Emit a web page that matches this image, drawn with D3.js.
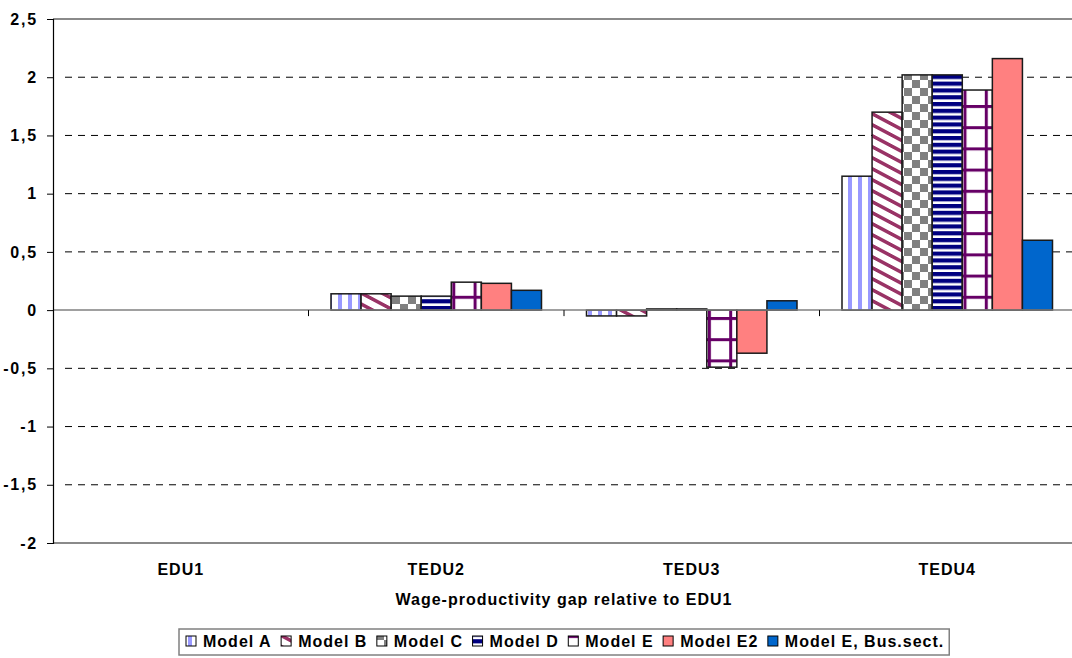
<!DOCTYPE html>
<html>
<head>
<meta charset="utf-8">
<script src="https://cdn.jsdelivr.net/npm/d3@7/dist/d3.min.js"></script>
<style>
  html, body { margin: 0; padding: 0; background: #fff; }
  svg { display: block; }
  text { font-family: "Liberation Sans", Arial, sans-serif; font-weight: bold; font-size: 16px; letter-spacing: 1px; fill: #000; }
  .ytick text { letter-spacing: 1.8px; }
</style>
</head>
<body>
<svg id="chart" width="1072" height="658"></svg>
<script>
// ---- data ----
const categories = ["EDU1", "TEDU2", "TEDU3", "TEDU4"];
const seriesNames = ["Model A", "Model B", "Model C", "Model D", "Model E", "Model E2", "Model E, Bus.sect."];
const modelA   = [0, 0.14, -0.05, 1.15];
const modelB   = [0, 0.14, -0.05, 1.70];
const modelC   = [0, 0.12,  0.01, 2.02];
const modelD   = [0, 0.12,  0.01, 2.02];
const modelE   = [0, 0.24, -0.49, 1.89];
const modelE2  = [0, 0.23, -0.37, 2.16];
const modelEBus= [0, 0.17,  0.08, 0.60];
const yTicks = [2.5, 2, 1.5, 1, 0.5, 0, -0.5, -1, -1.5, -2];
const xTitle = "Wage-productivity gap relative to EDU1";

const seriesValues = [modelA, modelB, modelC, modelD, modelE, modelE2, modelEBus];
const fills = ["url(#pA)", "url(#pB)", "url(#pC)", "url(#pD)", "url(#pE)", "#ff8080", "#0066cc"];

// ---- layout ----
const svg = d3.select("#chart");
const pLeft = 53, pRight = 1075, pTop = 19, pBottom = 543;

const y = d3.scaleLinear().domain([-2, 2.5]).range([pBottom, pTop]);
const x0 = d3.scaleBand().domain(categories).range([pLeft, pRight]);
const x1 = d3.scaleBand().domain(seriesNames).range([22.5, x0.bandwidth() - 22.5]);

// ---- patterns ----
const defs = svg.append("defs");
function pat(id, w, h, attrs) {
  const p = defs.append("pattern").attr("id", id).attr("patternUnits", "userSpaceOnUse")
    .attr("width", w).attr("height", h);
  if (attrs) Object.entries(attrs).forEach(([k, v]) => p.attr(k, v));
  p.append("rect").attr("width", w).attr("height", h).attr("fill", "#fff");
  return p;
}
// A: vertical light-blue stripes
pat("pA", 10, 10, {x: 8}).append("rect").attr("width", 4).attr("height", 10).attr("fill", "#9999ff");
// B: diagonal maroon stripes
pat("pB", 20, 11, {patternTransform: "skewY(28)"}).append("rect").attr("width", 20).attr("height", 4).attr("fill", "#993366");
// C: gray checkerboard
const pC = pat("pC", 16, 16);
pC.append("rect").attr("width", 8).attr("height", 8).attr("fill", "#808080");
pC.append("rect").attr("x", 8).attr("y", 8).attr("width", 8).attr("height", 8).attr("fill", "#808080");
// D: navy horizontal stripes
pat("pD", 10, 6.8).append("rect").attr("width", 10).attr("height", 4.2).attr("fill", "#000080");
// E: purple grid
const pE = pat("pE", 21.3, 21.2, {x: 5, y: -1});
pE.append("rect").attr("width", 3).attr("height", 21.2).attr("fill", "#660066");
pE.append("rect").attr("width", 21.3).attr("height", 3).attr("fill", "#660066");

// ---- grid lines ----
const grid = svg.append("g");
grid.selectAll("line.g").data(yTicks.filter(v => v !== 0 && v !== 2.5 && v !== -2)).join("line")
  .attr("x1", pLeft + 12).attr("x2", pRight)
  .attr("y1", d => y(d)).attr("y2", d => y(d))
  .attr("stroke", "#000").attr("stroke-width", 1).attr("stroke-dasharray", "7,6");
grid.selectAll("line.b").data([2.5, -2]).join("line")
  .attr("x1", pLeft).attr("x2", pRight)
  .attr("y1", d => y(d)).attr("y2", d => y(d))
  .attr("stroke", "#8a8a8a").attr("stroke-width", 2);

// ---- bars ----
const barData = [];
seriesValues.forEach((vals, si) => {
  vals.forEach((v, ci) => barData.push({s: seriesNames[si], si, c: categories[ci], v}));
});
svg.append("g").selectAll("rect").data(barData).join("rect")
  .attr("x", d => x0(d.c) + x1(d.s))
  .attr("width", x1.bandwidth())
  .attr("y", d => y(Math.max(0, d.v)))
  .attr("height", d => Math.abs(y(d.v) - y(0)))
  .attr("fill", d => fills[d.si])
  .attr("stroke", "#1a1a1a").attr("stroke-width", 1.5);

// ---- zero line and category ticks ----
svg.append("line").attr("x1", pLeft).attr("x2", pRight).attr("y1", y(0)).attr("y2", y(0))
  .attr("stroke", "#808080").attr("stroke-width", 1.5);
svg.append("g").selectAll("line").data(categories.slice(1)).join("line")
  .attr("x1", d => x0(d)).attr("x2", d => x0(d))
  .attr("y1", y(0)).attr("y2", y(0) + 6)
  .attr("stroke", "#000").attr("stroke-width", 1);

// ---- y axis ----
const yAxis = svg.append("g").attr("class", "ytick").attr("transform", `translate(${pLeft},0)`)
  .call(d3.axisLeft(y).tickValues(yTicks).tickSize(6).tickPadding(9)
    .tickFormat(d => String(d).replace(".", ",")));
yAxis.select(".domain").attr("stroke", "#000").attr("stroke-width", 1.2);
yAxis.selectAll(".tick line").attr("stroke", "#000");
yAxis.attr("font-family", null).attr("font-size", null);
yAxis.selectAll("text").attr("fill", "#000");

// ---- x axis labels ----
const xAxis = svg.append("g").attr("transform", `translate(0,${pBottom})`)
  .call(d3.axisBottom(x0).tickSize(0).tickPadding(21));
xAxis.select(".domain").remove();
xAxis.attr("font-family", null).attr("font-size", null);
xAxis.selectAll("text").attr("fill", "#000");

svg.append("text").attr("x", (pLeft + pRight) / 2).attr("y", 605)
  .attr("text-anchor", "middle").text(xTitle);

// ---- legend ----
const legend = svg.append("g");
const lgBox = legend.append("rect").attr("fill", "#fff").attr("stroke", "#808080").attr("stroke-width", 1.5);
let cx = 186;
const itemGap = 9.5;
seriesNames.forEach((name, i) => {
  legend.append("rect").attr("x", cx).attr("y", 636).attr("width", 10).attr("height", 10)
    .attr("fill", fills[i]).attr("stroke", "#000").attr("stroke-width", 1);
  const t = legend.append("text").attr("x", cx + 17).attr("y", 647).text(name);
  cx += 17 + t.node().getComputedTextLength() + itemGap;
});
lgBox.attr("x", 179).attr("y", 629).attr("width", cx - itemGap + 5 - 179).attr("height", 26);
</script>
</body>
</html>
